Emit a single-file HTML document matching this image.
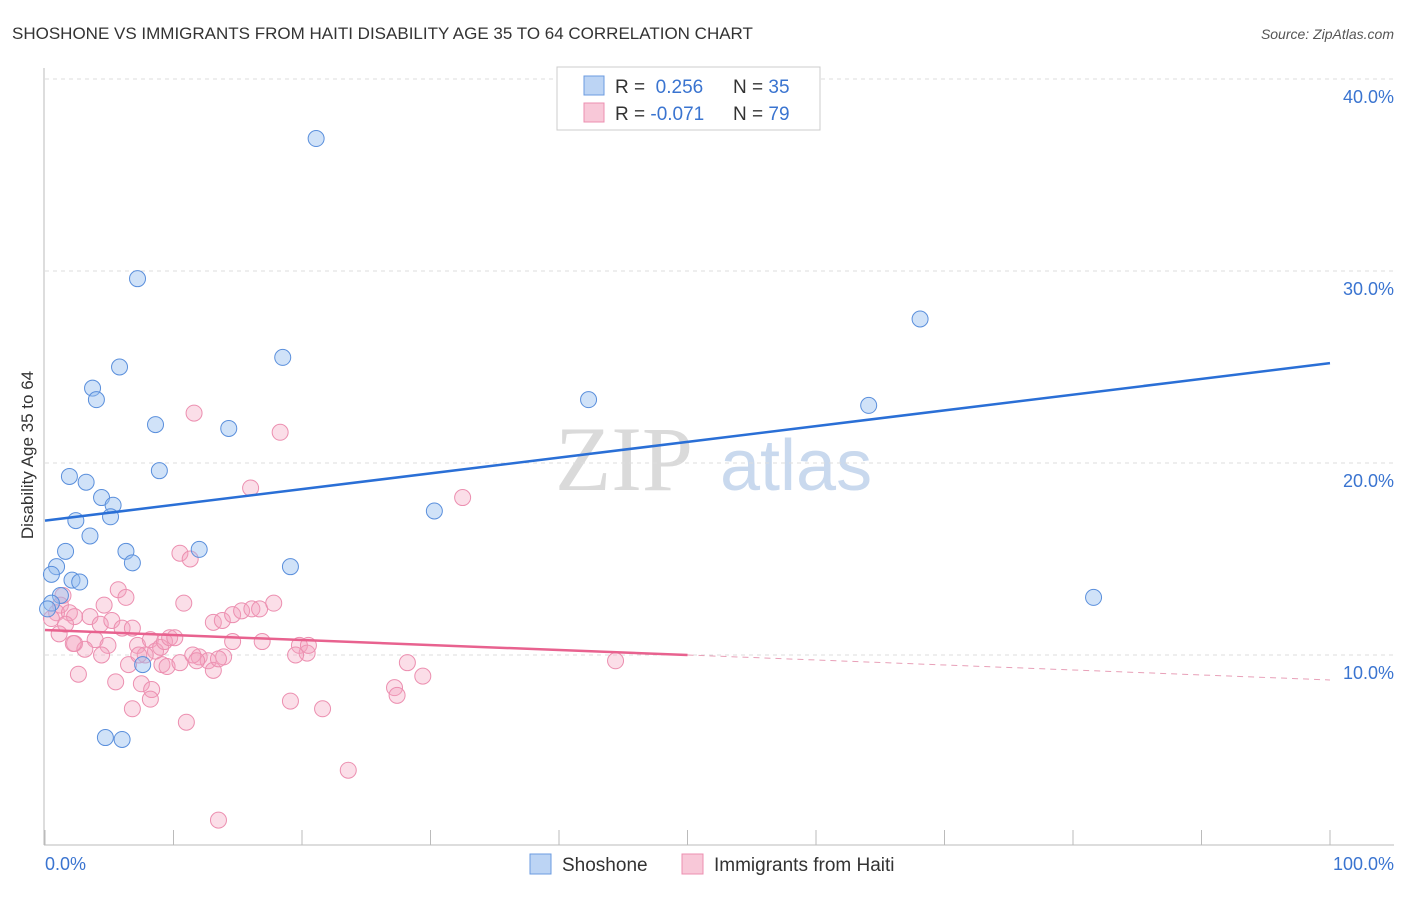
<!DOCTYPE html>
<html><head><meta charset="utf-8"><style>
body{margin:0;background:#fff;font-family:"Liberation Sans",sans-serif}
svg text{font-family:"Liberation Sans",sans-serif}
</style></head><body>
<svg id="c" width="1406" height="892">
<text x="12" y="39" font-size="17" fill="#333">SHOSHONE VS IMMIGRANTS FROM HAITI DISABILITY AGE 35 TO 64 CORRELATION CHART</text>
<text x="1394" y="39" font-size="14" fill="#555" font-style="italic" text-anchor="end">Source: ZipAtlas.com</text>
<text x="555" y="490" font-size="92" fill="#dadada" style="font-family:'Liberation Serif',serif">ZIP</text>
<text x="720" y="490" font-size="72" fill="#c9d9ee">atlas</text>
<g id="grid"></g><g id="pts"></g><g id="lines"></g>
<text transform="translate(33,455) rotate(-90)" font-size="17" fill="#333" text-anchor="middle">Disability Age 35 to 64</text>
<text x="45" y="870" font-size="18" fill="#3a74d0">0.0%</text>
<text x="1394" y="870" font-size="18" fill="#3a74d0" text-anchor="end">100.0%</text>
<g>
<rect x="557" y="67" width="263" height="63" fill="#fff" stroke="#ccc"/>
<rect x="584" y="76" width="20" height="19" fill="#bcd4f4" stroke="#6b9be0"/>
<rect x="584" y="103" width="20" height="19" fill="#f8c8d8" stroke="#ec8fb0"/>
<text x="615" y="93" font-size="19" fill="#333">R = <tspan fill="#3a74d0">&#160;0.256</tspan><tspan x="733">N = </tspan><tspan fill="#3a74d0">35</tspan></text>
<text x="615" y="120" font-size="19" fill="#333">R = <tspan fill="#3a74d0">-0.071</tspan><tspan x="733">N = </tspan><tspan fill="#3a74d0">79</tspan></text>
</g>
<g>
<rect x="530" y="854" width="21" height="20" fill="#bcd4f4" stroke="#6b9be0"/>
<text x="562" y="871" font-size="19" fill="#333">Shoshone</text>
<rect x="682" y="854" width="21" height="20" fill="#f8c8d8" stroke="#ec8fb0"/>
<text x="714" y="871" font-size="19" fill="#333">Immigrants from Haiti</text>
</g>
</svg>
<script>
const yTicks=[10,20,30,40];
const xTicksCount=10;
const blueX=[21.1,7.2,18.5,5.8,3.7,4.0,8.6,14.3,8.9,1.9,3.2,4.4,5.3,2.4,5.1,3.5,1.6,6.3,12.0,6.8,0.9,0.5,19.1,2.1,2.7,1.2,0.5,0.2,7.6,4.7,6.0,42.3,30.3,64.1,68.1,81.6];
const blueY=[36.9,29.6,25.5,25.0,23.9,23.3,22.0,21.8,19.6,19.3,19.0,18.2,17.8,17.0,17.2,16.2,15.4,15.4,15.5,14.8,14.6,14.2,14.6,13.9,13.8,13.1,12.7,12.4,9.5,5.7,5.6,23.3,17.5,23.0,27.5,13.0];
const pinkX=[16.0,32.5,18.3,11.6,10.5,11.3,5.7,6.3,4.6,1.4,1.2,0.9,0.5,1.9,2.3,3.5,4.3,1.6,1.1,2.3,3.9,4.9,4.4,3.1,2.2,5.2,6.0,6.8,7.2,8.2,8.6,9.0,9.3,9.7,10.1,7.8,6.5,7.3,9.1,9.5,10.5,12.0,12.7,10.8,13.1,13.8,14.6,15.3,16.1,16.7,17.8,14.6,16.9,19.8,20.4,20.5,19.5,11.5,13.1,13.9,11.8,13.5,2.6,5.5,7.5,8.3,6.8,11.0,8.2,19.1,21.6,28.2,27.2,27.4,29.4,23.6,13.5,44.4];
const pinkY=[18.7,18.2,21.6,22.6,15.3,15.0,13.4,13.0,12.6,13.1,12.6,12.2,11.9,12.2,12.0,12.0,11.6,11.6,11.1,10.6,10.8,10.5,10.0,10.3,10.6,11.8,11.4,11.4,10.5,10.8,10.2,10.4,10.7,10.9,10.9,10.0,9.5,10.0,9.5,9.4,9.6,9.9,9.7,12.7,11.7,11.8,12.1,12.3,12.4,12.4,12.7,10.7,10.7,10.5,10.1,10.5,10.0,10.0,9.2,9.9,9.7,9.8,9.0,8.6,8.5,8.2,7.2,6.5,7.7,7.6,7.2,9.6,8.3,7.9,8.9,4.0,1.4,9.7];
const blueTrend=[17.0,25.2];
const pinkTrend=[11.3,10.0,8.7];
const pinkSolidEnd=50;
const X=v=>45+v*12.85, Y=v=>847-v*19.2;
const NS='http://www.w3.org/2000/svg';
function mk(t,a,p){const e=document.createElementNS(NS,t);for(const k in a)e.setAttribute(k,a[k]);p.appendChild(e);return e;}
const grid=document.getElementById('grid');
yTicks.forEach(t=>{
 const l=mk('line',{x1:45,x2:1394,y1:Y(t),y2:Y(t),stroke:'#ddd','stroke-dasharray':'4,4'},grid);
 
 
 const tx=mk('text',{x:1394,y:Y(t)+24,'font-size':18,fill:'#3a74d0','text-anchor':'end'},grid);
 tx.textContent=t.toFixed(1)+'%';
 
 
});
const ax=mk('line',{x1:44,x2:44,y1:68,y2:845,stroke:'#bbb'},grid);


const bx=mk('line',{x1:44,x2:1394,y1:845,y2:845,stroke:'#bbb'},grid);


for(let i=0;i<=xTicksCount;i++){
 const tk=mk('line',{x1:X(i*10),x2:X(i*10),y1:830,y2:845,stroke:'#bbb'},grid);
 
 
}
const pts=document.getElementById('pts');
pinkX.forEach((x,i)=>{
 const c=mk('circle',{cx:X(x),cy:Y(pinkY[i]),r:8,fill:'rgba(244,160,190,0.35)',stroke:'#ec8fb0','stroke-width':1},pts);
 
 
});
blueX.forEach((x,i)=>{
 const c=mk('circle',{cx:X(x),cy:Y(blueY[i]),r:8,fill:'rgba(150,190,240,0.45)',stroke:'#5a8fdc','stroke-width':1},pts);
 
 
});
const ln=document.getElementById('lines');
const b=mk('line',{x1:X(0),y1:Y(blueTrend[0]),x2:X(100),y2:Y(blueTrend[1]),stroke:'#2a6fd6','stroke-width':2.5},ln);


const p1=mk('line',{x1:X(0),y1:Y(pinkTrend[0]),x2:X(pinkSolidEnd),y2:Y(pinkTrend[1]),stroke:'#e8628f','stroke-width':2.5},ln);


const p2=mk('line',{x1:X(pinkSolidEnd),y1:Y(pinkTrend[1]),x2:X(100),y2:Y(pinkTrend[2]),stroke:'#e8a0b8','stroke-width':1,'stroke-dasharray':'6,5'},ln);


</script>
</body></html>
